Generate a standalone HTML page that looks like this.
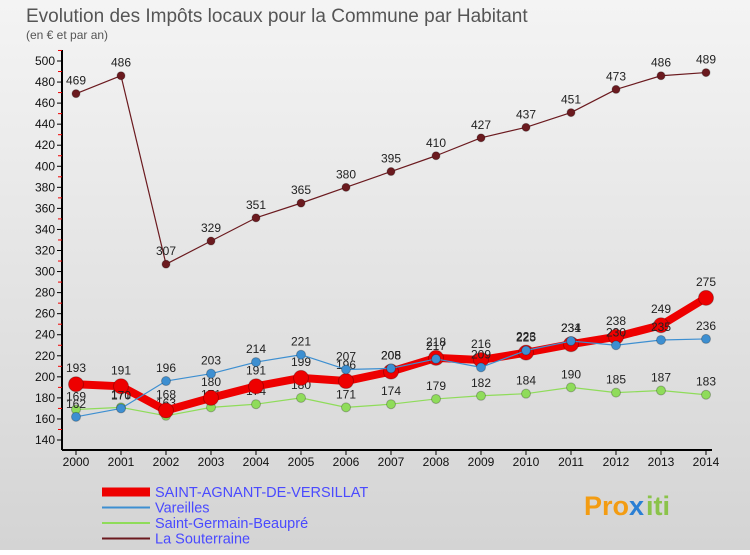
<!DOCTYPE html>
<html><head><meta charset="utf-8"><style>
body{margin:0;width:750px;height:550px;overflow:hidden;font-family:"Liberation Sans",sans-serif}
svg text{font-family:"Liberation Sans",sans-serif}
</style></head><body>
<svg id="chart" width="750" height="550" viewBox="0 0 750 550" xmlns="http://www.w3.org/2000/svg">
<defs><linearGradient id="bg" x1="0" y1="0" x2="0" y2="1"><stop offset="0" stop-color="#f4f4f4"/><stop offset="1" stop-color="#d4d4d4"/></linearGradient></defs>
<rect x="0" y="0" width="750" height="550" fill="url(#bg)"/>
<text x="26" y="22" font-size="19" fill="#555">Evolution des Impôts locaux pour la Commune par Habitant</text>
<text x="26" y="39" font-size="12" fill="#555">(en € et par an)</text>
<g id="axes"></g>
<g id="series"></g>
<g id="legend"></g>
<g font-size="27" font-weight="bold">
<text x="584" y="515" fill="#f39c12">Pro</text><text x="629" y="515" fill="#2a7fd4">x</text><text x="646" y="515" fill="#8bc34a">iti</text>
</g>
</svg>
<script>
const years=[2000,2001,2002,2003,2004,2005,2006,2007,2008,2009,2010,2011,2012,2013,2014];
const yTicks=[140,160,180,200,220,240,260,280,300,320,340,360,380,400,420,440,460,480,500];
const saintAgnant=[193,191,168,180,191,199,196,205,218,216,223,231,238,249,275];
const vareilles=[162,170,196,203,214,221,207,208,217,209,225,234,230,235,236];
const saintGermain=[169,171,163,171,174,180,171,174,179,182,184,190,185,187,183];
const souterraine=[469,486,307,329,351,365,380,395,410,427,437,451,473,486,489];
const seriesNames=["SAINT-AGNANT-DE-VERSILLAT","Vareilles","Saint-Germain-Beaupré","La Souterraine"];
const NS="http://www.w3.org/2000/svg";
const X=i=>76+i*45;
const Y=v=>440-(v-140)*(379/360);
function mk(tag,attrs,parent){const e=document.createElementNS(NS,tag);for(const k in attrs)e.setAttribute(k,attrs[k]);parent.appendChild(e);return e;}
const axes=document.getElementById('axes');
const yAxis=mk('line',{x1:62,y1:50,x2:62,y2:450,stroke:'#000','stroke-width':2},axes);


const xAxis=mk('line',{x1:62,y1:450,x2:712,y2:450,stroke:'#000','stroke-width':2},axes);


yTicks.forEach(v=>{
  mk('line',{x1:57,y1:Y(v),x2:62,y2:Y(v),stroke:'#000'},axes);
  mk('line',{x1:58,y1:Y(v+10),x2:62,y2:Y(v+10),stroke:'#e00'},axes);
  const t=mk('text',{x:55,y:Y(v)+4,'text-anchor':'end','font-size':12,fill:'#111'},axes);
  t.textContent=v;
  
  
});
years.forEach((yr,i)=>{
  mk('line',{x1:X(i),y1:450,x2:X(i),y2:455,stroke:'#000'},axes);
  const t=mk('text',{x:X(i),y:466,'text-anchor':'middle','font-size':12,fill:'#111'},axes);
  t.textContent=yr;
  
  
});
const sg=document.getElementById('series');
function draw(data,color,width,r,name,labelOff){
  const g=mk('g',{},sg);
  
  
  mk('polyline',{points:data.map((v,i)=>X(i)+','+Y(v)).join(' '),fill:'none',stroke:color,'stroke-width':width,'stroke-linejoin':'round'},g);
  data.forEach((v,i)=>{
    const c=mk('circle',{cx:X(i),cy:Y(v),r:r,fill:color,stroke:'rgba(0,0,0,0.25)','stroke-width':1},g);
    
    
    const t=mk('text',{x:X(i),y:Y(v)-labelOff,'text-anchor':'middle','font-size':12,fill:'#222'},g);
    t.textContent=v;
    
    
  });
}
draw(souterraine,'#6b1a1f',1.2,4,'series-la-souterraine',9);
draw(saintGermain,'#8fdc5a',1.2,4.5,'series-saint-germain-beaupre',9);
draw(saintAgnant,'#ee0000',8,7.5,'series-saint-agnant',12);
draw(vareilles,'#3d8fd1',1.2,4.5,'series-vareilles',9);
const lg=document.getElementById('legend');
const lcols=['#ee0000','#3d8fd1','#8fdc5a','#6b1a1f'];
const lw=[9,2,2,2];
seriesNames.forEach((n,i)=>{
  const y=492+i*15.5;
  const g=mk('g',{},lg);
  
  
  mk('line',{x1:102,y1:y,x2:150,y2:y,stroke:lcols[i],'stroke-width':lw[i]},g);
  const t=mk('text',{x:155,y:y+5,'font-size':14.5,fill:'#4a4aff'},g);
  t.textContent=n;
});
</script>
</body></html>
